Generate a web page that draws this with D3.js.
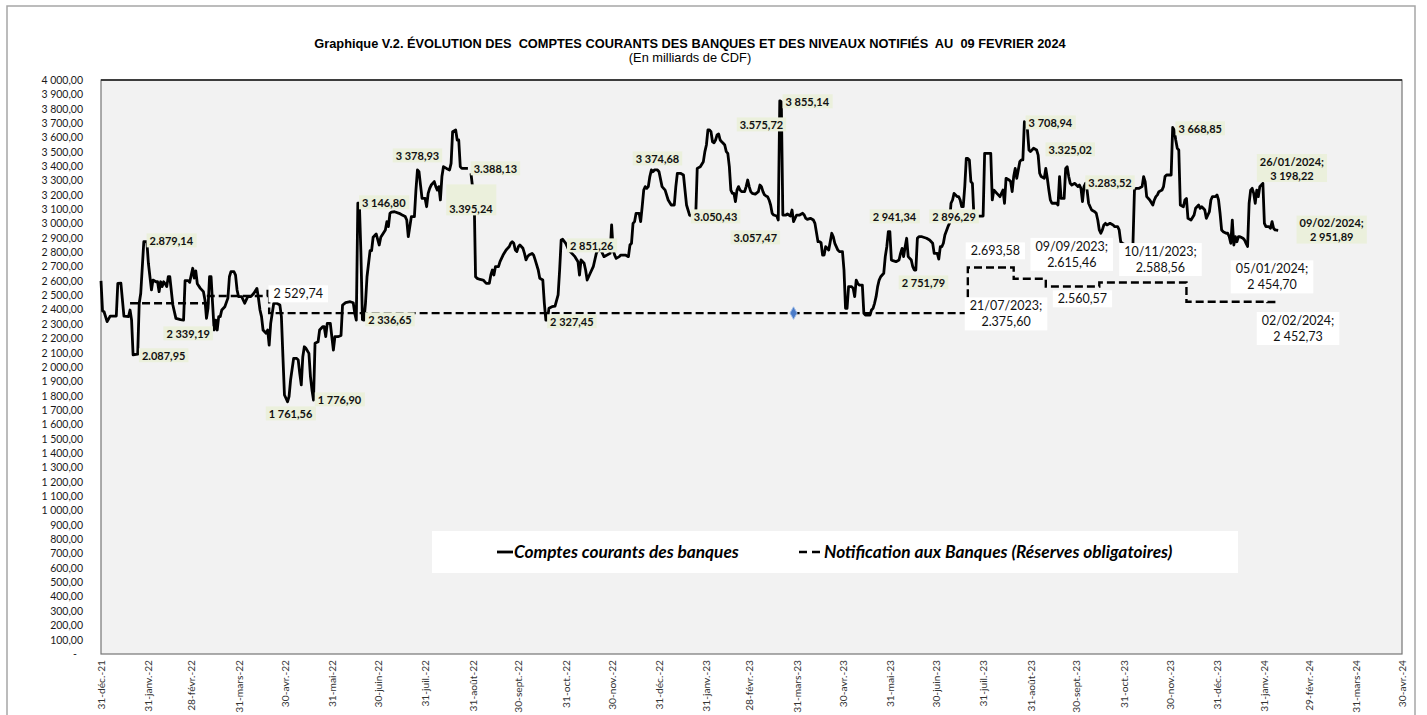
<!DOCTYPE html>
<html lang="fr">
<head>
<meta charset="utf-8">
<title>Graphique V.2</title>
<script src="https://d3js.org/d3.v7.min.js"></script>
<style>
  body { margin: 0; background: #fff; }
  svg text { font-family: Lato, "Open Sans", sans-serif; }
</style>
</head>
<body>
<div id="chart"></div>
<script>
// jours comptés depuis le 31-déc.-21, valeurs en milliards de CDF
var comptesCourants = [
  [0,2600],[1,2390],[2,2385],[4,2316],[6,2355],[10,2355],[11,2583],[13,2585],[15,2355],[18,2351],[19,2397],[20,2327],
  [21,2084],[24,2090],[25,2444],[26,2514],[28,2873],[30,2873],[31,2723],[33,2537],[34,2606],[36,2594],[37,2594],[38,2525],
  [39,2594],[40,2560],[41,2594],[42,2580],[43,2560],[44,2629],[45,2629],[47,2432],[49,2339],[52,2330],[54,2327],[55,2602],
  [57,2602],[58,2590],[60,2688],[61,2620],[62,2670],[63,2580],[65,2548],[67,2525],[68,2467],[69,2339],[70,2409],[71,2629],
  [72,2629],[73,2440],[74,2258],[75,2327],[76,2258],[77,2351],[78,2351],[79,2397],[81,2420],[83,2480],[84,2629],[85,2664],
  [87,2664],[88,2640],[89,2537],[90,2490],[92,2490],[94,2444],[96,2490],[98,2490],[100,2514],[102,2548],[103,2479],[104,2397],
  [105,2351],[106,2258],[108,2235],[109,2258],[110,2153],[111,2304],[113,2444],[115,2444],[117,2432],[118,2351],[119,2072],
  [120,1805],[121,1782],[122,1758],[123,1793],[124,1909],[126,2060],[128,2060],[129,2049],[130,1956],[131,1875],[132,2072],
  [133,2141],[134,2130],[136,2095],[137,1933],[138,1840],[139,1770],[140,2165],[142,2176],[143,2258],[145,2281],[146,2281],
  [147,2212],[148,2304],[150,2304],[151,2211],[152,2118],[153,2211],[155,2211],[157,2220],[158,2432],[160,2448],[163,2455],
  [165,2448],[166,2374],[167,2327],[168,3141],[169,3141],[170,2800],[171,2330],[172,2327],[173,2444],[174,2629],[176,2811],
  [177,2811],[178,2904],[180,2927],[182,2850],[183,2904],[186,2955],[187,3013],[188,2978],[189,3071],[190,3080],
  [192,3082],[195,3071],[197,3059],[199,3048],[200,3024],[201,2908],[203,3048],[205,3048],[206,3233],[207,3373],[208,3361],
  [209,3268],[210,3175],[212,3175],[213,3117],[214,3210],[215,3245],[216,3268],[218,3292],[219,3257],[220,3233],[221,3257],
  [222,3164],[223,3327],[224,3396],[226,3384],[228,3373],[229,3419],[230,3640],[232,3652],[233,3582],[234,3582],[235,3396],
  [236,3384],[240,3384],[241,null],[242,3350],[243,3257],[244,3240],[245,2629],[246,2618],[248,2610],[250,2606],[252,2583],
  [254,2583],[255,2641],[256,2676],[257,2641],[258,2699],[260,2699],[261,2734],[263,2780],[265,2815],[266,2827],[267,2838],
  [268,2862],[269,2873],[270,2862],[271,2815],[272,2804],[273,2838],[274,2850],[276,2827],[277,2792],[278,2746],[279,2769],
  [280,2780],[282,2792],[283,2780],[284,2746],[286,2676],[287,2618],[289,2606],[290,2444],[291,2327],[292,2327],[293,2409],
  [295,2420],[297,2425],[299,2502],[300,2676],[301,2885],[302,2890],[304,2862],[306,2815],[308,2792],[310,2769],[312,2734],
  [313,2641],[314,2746],[316,2723],[317,2676],[318,2606],[320,2653],[322,2699],[324,2792],[325,2815],[327,2815],[329,2769],
  [331,2780],[333,2792],[334,2990],[335,2815],[336,2780],[337,2757],[339,2769],[340,2780],[343,2780],[345,2769],[346,2850],
  [347,2862],[348,3001],[349,3013],[350,3071],[352,3071],[353,3013],[354,3117],[355,3233],[356,3257],[357,3245],[358,3257],
  [359,3327],[360,3373],[361,3361],[362,3373],[364,3373],[365,3361],[367,3257],[369,3233],[371,3164],[373,3129],[375,3129],
  [376,3257],[377,3350],[379,3350],
  [381,3338],[382,3233],[383,3129],[385,3059],[386,3052],[387,null],[389,3048],[390,3384],[392,3396],[394,3431],[395,3501],
  [396,3547],[397,3652],[398,3652],[399,3640],[400,3570],[401,3563],[402,3582],[403,3617],[404,3624],[405,3582],[406,3570],
  [407,3559],[408,3547],[409,3501],[410,3489],[411,3396],[412,3233],[413,3210],[414,3210],[415,3152],[416,3233],[417,3257],
  [418,3233],[419,3222],[421,3222],[422,3257],[423,3303],[424,3257],[425,3222],[426,3210],[428,3205],[430,3222],[431,3268],
  [432,3257],[433,3222],[434,3199],[435,3192],[436,3187],[437,3164],[438,3129],[439,3071],[440,3059],[442,3052],[443,3024],
  [444,3855],[445,3849],[446,3059],[448,3059],[449,3066],[451,3052],[452,3094],[453,3013],[455,3059],[457,3059],[459,3071],
  [460,3059],[461,3036],[462,3029],[464,3036],[466,3024],[467,3001],[469,2873],[470,2873],[471,2866],[472,2780],[473,2780],
  [474,2838],[475,2827],[476,2815],[477,2873],[478,2932],[479,2908],[480,2862],[482,2815],[483,2804],[485,2804],[486,2676],
  [487,2409],[488,2409],[489,2560],[491,2560],[492,2548],[493,2490],[494,2606],[495,2583],[496,2571],[498,2571],[499,2374],
  [500,2362],[503,2362],[504,2397],[505,2409],[506,2444],[507,2490],[508,2560],[509,2606],[510,2629],[511,2641],[512,2653],
  [513,2769],[514,2838],[515,2943],[516,2943],[517,2746],[518,2741],[520,2734],[522,2746],[523,2792],[524,2827],[525,2769],
  [526,2838],[527,2897],[528,2769],[530,2746],[531,2699],[532,2676],[533,2676],[534,2897],[535,2908],[537,2908],[540,2897],
  [542,2885],[544,2862],[545,2792],[547,2792],[548,2752],[549,2838],[550,2838],[551,2862],[552,2920],[554,2978],[555,3001],
  [556,3141],[557,3164],[558,3210],[559,3199],[560,3187],[561,3187],[562,3164],[563,3117],[564,3117],[565,3257],[566,3454],
  [567,3454],[568,3443],
  [569,3292],[570,3280],[571,3048],[572,3052],[577,3052],[578,3489],[582,3489],[583,3164],[584,3233],[586,3210],[588,3187],
  [590,3233],[591,3141],[592,3315],[594,3303],[595,3292],[596,3222],[597,3327],[598,3384],[599,3315],[601,3431],[602,3443],
  [603,3443],[604,3709],[605,3698],[606,3652],[607,3512],[608,3501],[610,3524],[612,3512],[613,3477],[614,3350],[615,3327],
  [617,3315],[618,3384],[619,3315],[620,3233],[621,3164],[622,3141],[625,3141],[626,3129],[627,3327],[628,3175],[630,3175],
  [631,3384],[632,3396],[633,3327],[634,3280],[635,3268],[637,3280],[638,3268],[639,3257],[640,3268],[641,3245],[642,3152],
  [643,3257],[644,3280],[645,3233],[646,3141],[647,3117],[648,3094],[650,3082],[651,3071],[652,3024],[653,2955],[654,2932],
  [655,2955],[656,2990],[657,3001],[658,2990],[660,3001],[662,2990],[663,2978],[665,2978],[666,2955],[667,2873],[668,2862],
  [670,2850],[675,2850],[676,3233],[677,3245],[679,3245],[681,3257],[682,3327],[683,3292],[684,3187],[686,3164],[688,3129],
  [689,3164],[690,3187],[691,3199],[692,3222],[694,3233],[695,3257],[696,3327],[697,3338],[700,3338],[701,3669],[702,3652],
  [703,3582],[704,3524],[705,3512],[706,3129],[708,3117],[709,3164],[710,3175],[711,3036],[713,3024],[715,3059],[716,3106],
  [718,3129],[719,3106],[720,3117],[721,3106],[722,3094],[723,3036],[725,3082],[726,3164],[727,3187],[729,3187],[730,3199],
  [731,3164],[732,3071],[733,2955],[734,2943],[736,2932],[737,2932],[738,2908],[739,2862],[740,3024],[741,2850],[742,2908],
  [743,2873],[744,2908],[745,2908],[747,2897],[748,2885],[749,2862],[750,2840],[751,3141],[752,3233],[753,3245],[754,3210],
  [755,3141],[756,3233],[757,3187],[758,3257],[759,3268],[760,3280],[761,3001],[762,2978],[764,2978],[765,2967],[766,3013],
  [767,2967],[768,2955],[770,2952]
];

// niveaux notifiés (réserves obligatoires), en escalier
var notifDates = ["2022-01-19", "2022-03-11", "2022-04-19", "2022-04-20", "2023-07-21", "2023-08-20",
  "2023-09-10", "2023-10-15", "2023-12-11", "2024-02-02", "2024-02-09"];
var notifValeurs = [2444, 2495, 2529.74, 2375.60, 2693.58, 2615.46, 2560.57, 2588.56, 2454.70, 2452.73, 2452.73];

var moisCourts = ["janv.", "févr.", "mars", "avr.", "mai", "juin", "juil.", "août", "sept.", "oct.", "nov.", "déc."];

// étiquettes de données : [jour, valeur d'ancrage, texte]
var etiquettesComptes = [
  [46, 2878, "2.879,14"], [41, 2077, "2.087,95"], [57, 2230, "2 339,19"], [124, 1672, "1 761,56"],
  [156, 1770, "1 776,90"], [189, 2328, "2 336,65"], [185, 3143, "3 146,80"], [207, 3470, "3 378,93"],
  [258, 3380, "3.388,13"], [242, 3101, "3.395,24"], [308, 2314, "2 327,45"], [321, 2843, "2 851,26"],
  [364, 3449, "3 374,68"], [402, 3045, "3.050,43"], [428, 2899, "3.057,47"], [432, 3686, "3.575,72"],
  [462, 3847, "3 855,14"], [519, 3045, "2 941,34"], [538, 2585, "2 751,79"], [558, 3045, "2 896,29"],
  [621, 3700, "3 708,94"], [634, 3512, "3.325,02"], [660, 3282, "3.283,52"], [719, 3659, "3 668,85"],
  [779, 3382, "26/01/2024;|3 198,22"], [805, 2953, "09/02/2024;|2 951,89"]
];
var etiquettesNotif = [
  [129, 2509, "2 529,74"], [585, 2808, "2.693,58"], [635, 2784, "09/09/2023;|2.615,46"],
  [642, 2474, "2.560,57"], [592, 2369, "21/07/2023;|2.375,60"], [693, 2748, "10/11/2023;|2.588,56"],
  [766, 2627, "05/01/2024;|2 454,70"], [783, 2267, "02/02/2024;|2 452,73"]
];

// dimensions
var svgWidth = 1427;
var svgHeight = 715;
var margins = { top: 80, left: 101 };
var width = 1301;
var height = 574;

var debut = Date.UTC(2021, 11, 31);
function jourEnDate(j) { return new Date(debut + j * 864e5); }

var svg = d3.select('#chart').append('svg').attr('width', svgWidth).attr('height', svgHeight);

// cadre extérieur
svg.append('rect')
  .attr('x', 7).attr('y', 6).attr('width', 1408).attr('height', 730)
  .attr('fill', '#fff').attr('stroke', '#a6a6a6').attr('stroke-width', 1.5);

// titre
svg.append('text')
  .attr('x', 690).attr('y', 48)
  .attr('text-anchor', 'middle')
  .style('font-family', '"Liberation Sans", Arial, sans-serif')
  .style('font-weight', 'bold').style('font-size', '12.8px')
  .style('white-space', 'pre')
  .text('Graphique V.2. ÉVOLUTION DES  COMPTES COURANTS DES BANQUES ET DES NIVEAUX NOTIFIÉS  AU  09 FEVRIER 2024');
svg.append('text')
  .attr('x', 690).attr('y', 62)
  .attr('text-anchor', 'middle')
  .style('font-family', '"Liberation Sans", Arial, sans-serif')
  .style('font-size', '12.8px')
  .text('(En milliards de CDF)');

var chart = svg.append('g').attr('transform', `translate(${margins.left}, ${margins.top})`);

chart.append('rect')
  .attr('width', width).attr('height', height)
  .attr('fill', '#f2f2f2').attr('stroke', '#767676').attr('stroke-width', 1.2);
chart.append('line')
  .attr('x1', 0).attr('x2', width).attr('y1', 0).attr('y2', 0)
  .attr('stroke', '#1a1a1a').attr('stroke-width', 1.5);

var x = d3.scaleUtc()
  .domain([new Date(debut), new Date(Date.UTC(2024, 3, 30))])
  .range([0, width]);
var y = d3.scaleLinear()
  .domain([0, 4000])
  .range([height, 0]);

// axe des dates : fins de mois
var finsDeMois = d3.utcMonth.range(new Date(Date.UTC(2022, 0, 1)), new Date(Date.UTC(2024, 4, 2)))
  .map(d => d3.utcDay.offset(d, -1));
var bottomAxis = d3.axisBottom(x)
  .tickValues(finsDeMois)
  .tickSize(0)
  .tickFormat(d => d.getUTCDate() + '-' + moisCourts[d.getUTCMonth()] + '-' + String(d.getUTCFullYear()).slice(2));
var gx = chart.append('g').attr('transform', `translate(0, ${height})`).call(bottomAxis);
gx.select('.domain').remove();
gx.selectAll('text')
  .attr('transform', 'rotate(-90)')
  .attr('x', -6).attr('y', 0).attr('dy', '0.35em')
  .style('text-anchor', 'end')
  .style('font-size', '10.2px')
  .attr('fill', '#333');

var fr = d3.formatLocale({ decimal: ',', thousands: '\u00a0', grouping: [3], currency: ['', ''] });
var fmt = fr.format(',.2f');
var leftAxis = d3.axisLeft(y)
  .tickValues(d3.range(0, 4001, 100))
  .tickSize(0).tickPadding(18)
  .tickFormat(d => d === 0 ? '-' : fmt(d));
var gy = chart.append('g').call(leftAxis);
gy.select('.domain').remove();
gy.selectAll('text').style('font-size', '10.5px').attr('fill', '#1a1a1a');
gy.selectAll('.tick').filter(d => d === 0).select('text').attr('dx', -6);

// séries
var ligne = d3.line()
  .defined(d => d[1] != null)
  .x(d => x(jourEnDate(d[0])))
  .y(d => y(d[1]));

chart.append('path')
  .datum(comptesCourants)
  .attr('d', ligne)
  .attr('fill', 'none')
  .attr('stroke', '#000')
  .attr('stroke-width', 2.8)
  .attr('stroke-linejoin', 'round');

var notif = notifDates.map((d, i) => ({ date: new Date(d + 'T00:00:00Z'), v: notifValeurs[i] }));
chart.append('path')
  .datum(notif)
  .attr('d', d3.line().curve(d3.curveStepAfter).x(d => x(d.date)).y(d => y(d.v)))
  .attr('fill', 'none')
  .attr('stroke', '#000')
  .attr('stroke-width', 2.4)
  .attr('stroke-dasharray', '8,4');

// point sélectionné sur la série notifiée
chart.append('path')
  .attr('d', d3.symbol(d3.symbolDiamond, 45)())
  .attr('transform', `translate(${x(jourEnDate(453))}, ${y(notifValeurs[3])})`)
  .attr('fill', '#4a7bc8').attr('stroke', '#9dbbe6').attr('stroke-width', 1);

// étiquettes
function etiquette(d, opts) {
  var g = chart.append('g');
  var rect = g.append('rect').attr('fill', opts.fond);
  var lignes = d[2].split('|');
  var t = g.append('text')
    .attr('text-anchor', 'middle')
    .style('font-size', opts.taille + 'px')
    .style('font-weight', opts.gras ? 'bold' : 'normal')
    .attr('fill', '#111');
  var cx = x(jourEnDate(d[0])), cy = y(d[1]);
  lignes.forEach(function(l, i) {
    t.append('tspan')
      .attr('x', cx)
      .attr('y', cy + (i - (lignes.length - 1) / 2) * opts.interligne)
      .attr('dy', '0.35em')
      .text(l);
  });
  var b = t.node().getBBox();
  var haut = opts.hautExtra && opts.hautExtra[d[2]] ? opts.hautExtra[d[2]] : 0;
  rect.attr('x', b.x - opts.px).attr('y', b.y - opts.py - haut)
    .attr('width', b.width + 2 * opts.px).attr('height', b.height + 2 * opts.py + haut);
}

etiquettesComptes.forEach(d => etiquette(d, {
  fond: '#ebf0dc', taille: 11, gras: true, interligne: 14, px: 3, py: 0.5,
  hautExtra: { '3.395,24': 17 }
}));
etiquettesNotif.forEach(d => etiquette(d, {
  fond: '#fff', taille: 12.5, gras: false, interligne: 16, px: 5, py: 1
}));

// légende
var leg = svg.append('g');
leg.append('rect')
  .attr('x', 432).attr('y', 531).attr('width', 806).attr('height', 42)
  .attr('fill', '#fff');
leg.append('line')
  .attr('x1', 497).attr('x2', 513).attr('y1', 552).attr('y2', 552)
  .attr('stroke', '#000').attr('stroke-width', 2.8);
leg.append('text')
  .attr('x', 514).attr('y', 558)
  .style('font-size', '17.3px').style('font-weight', 'bold').style('font-style', 'italic')
  .text('Comptes courants des banques');
leg.append('line')
  .attr('x1', 799).attr('x2', 821).attr('y1', 552).attr('y2', 552)
  .attr('stroke', '#000').attr('stroke-width', 2.4).attr('stroke-dasharray', '8,5');
leg.append('text')
  .attr('x', 824).attr('y', 558)
  .style('font-size', '17.3px').style('font-weight', 'bold').style('font-style', 'italic')
  .text('Notification aux Banques (Réserves obligatoires)');
</script>
</body>
</html>
